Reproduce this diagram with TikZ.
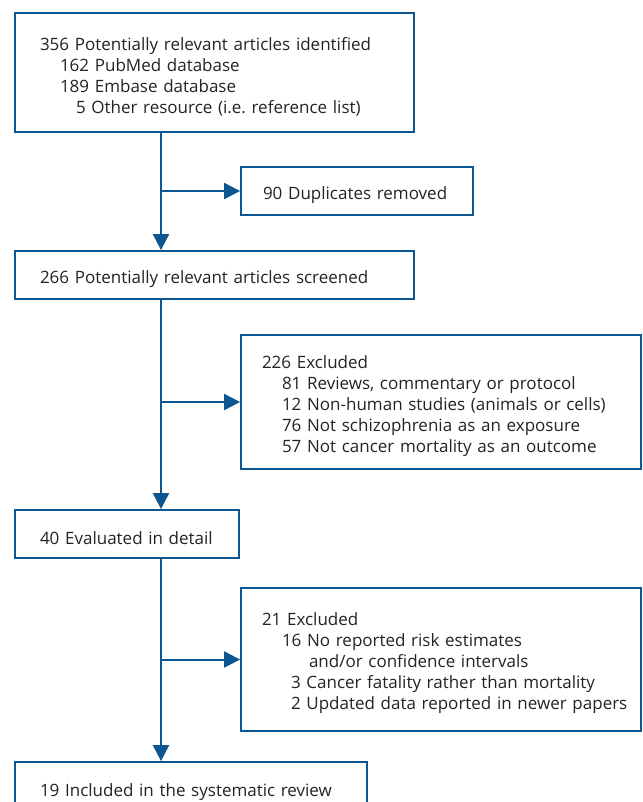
\documentclass[tikz,border=0pt]{standalone}
\usepackage{fontspec}
\setmainfont{Open Sans}
\usetikzlibrary{arrows.meta}
\definecolor{flowblue}{RGB}{12,86,146}
\definecolor{txt}{RGB}{35,35,35}
\begin{document}
\begin{tikzpicture}[x=1pt,y=-1pt,
  box/.style={draw=flowblue,line width=1.8pt,rectangle,inner ysep=0pt,
    align=left,text=txt,font=\fontsize{17}{21}\selectfont,anchor=center,
    execute at begin node={\rule{0pt}{21pt}}},
  arr/.style={draw=flowblue,line width=2pt,-{Triangle[length=16pt,width=16pt]}}]
\useasboundingbox (0,0) rectangle (642,802);
\clip (0,0) rectangle (642,802);
\node[box,minimum width=399pt,minimum height=119pt,inner xsep=25pt,text width=349pt] (b1) at (214.5,72.5)
 {356 Potentially relevant articles identified\\
  \hspace*{20pt}162 PubMed database\\
  \hspace*{20pt}189 Embase database\\
  \hspace*{36pt}5 Other resource (i.e.\ reference list)};
\node[box,minimum width=232pt,minimum height=48pt,inner xsep=22pt,text width=188pt] (dup) at (357,191)
 {90 Duplicates removed};
\node[box,minimum width=399pt,minimum height=48pt,inner xsep=25pt,text width=349pt] (b2) at (214.5,275)
 {266 Potentially relevant articles screened};
\node[box,minimum width=400pt,minimum height=134pt,inner xsep=21pt,text width=358pt] (ex1) at (441,402)
 {226 Excluded\\
  \hspace*{20pt}81 Reviews, commentary or protocol\\
  \hspace*{20pt}12 Non-human studies (animals or cells)\\
  \hspace*{20pt}76 Not schizophrenia as an exposure\\
  \hspace*{20pt}57 Not cancer mortality as an outcome};
\node[box,minimum width=224pt,minimum height=48pt,inner xsep=25pt,text width=174pt] (b3) at (127,534)
 {40 Evaluated in detail};
\node[box,minimum width=400pt,minimum height=143pt,inner xsep=21pt,text width=358pt] (ex2) at (441,659.5)
 {21 Excluded\\
  \hspace*{20pt}16 No reported risk estimates\\
  \hspace*{47pt}and/or confidence intervals\\
  \hspace*{29pt}3 Cancer fatality rather than mortality\\
  \hspace*{29pt}\mbox{2 Updated data reported in newer papers}};
\node[box,minimum width=352pt,minimum height=52pt,inner xsep=25pt,text width=302pt] (b4) at (191,788)
 {19 Included in the systematic review};
\coordinate (spine) at (161,0);
\draw[arr] (b1.south -| spine) -- (b2.north -| spine);
\draw[arr] (spine |- dup.west) -- (dup.west);
\draw[arr] (b2.south -| spine) -- (b3.north -| spine);
\draw[arr] (spine |- ex1.west) -- (ex1.west);
\draw[arr] (b3.south -| spine) -- (b4.north -| spine);
\draw[arr] (spine |- ex2.west) -- (ex2.west);
\end{tikzpicture}
\end{document}
